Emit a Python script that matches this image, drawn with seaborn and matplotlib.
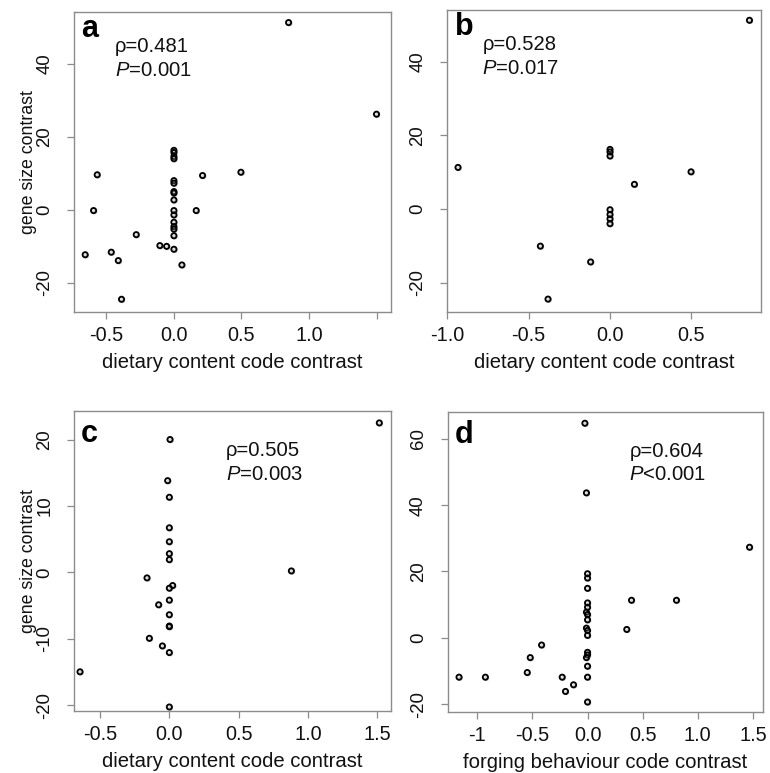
import numpy as np
import pandas as pd
import seaborn as sns
import matplotlib
matplotlib.use("Agg")
import matplotlib.pyplot as plt
import matplotlib.patheffects as pe

# ---------------- data ----------------
a_x = [0.849, 1.50, -0.568, -0.595, -0.657, -0.464, -0.412, -0.388, -0.279,
       -0.104, -0.054, 0.0, 0.059, 0.165, 0.212, 0.496,
       0.0, 0.0, 0.0, 0.0, 0.0, 0.0, 0.0, 0.0, 0.0,
       0.0, 0.0, 0.0, 0.0, 0.0, 0.0]
a_y = [51.3, 26.2, 9.6, -0.2, -12.3, -11.6, -13.9, -24.5, -6.8,
       -9.8, -10.0, -10.8, -15.1, -0.2, 9.4, 10.3,
       16.3, 15.7, 14.6, 14.0, 8.0, 7.3, 5.0, 4.6, 2.7,
       -0.2, -1.4, -3.4, -4.6, -5.3, -7.1]

b_x = [0.857, -0.934, 0.0, 0.0, 0.0, 0.150, 0.498, 0.0, 0.0, 0.0, 0.0,
       -0.428, -0.119, -0.381]
b_y = [51.3, 11.3, 16.2, 15.5, 14.4, 6.7, 10.1, -0.2, -1.5, -2.7, -4.0,
       -10.1, -14.4, -24.5]

c_x = [1.514, 0.005, -0.012, 0.0, 0.0, 0.0, 0.0, 0.0, 0.88, -0.161, 0.024,
       0.0, 0.0, -0.077, 0.0, 0.0, 0.0, -0.144, -0.05, 0.0, -0.644, 0.0]
c_y = [22.5, 20.0, 13.8, 11.3, 6.7, 4.6, 2.8, 1.9, 0.2, -0.85, -2.0,
       -2.4, -4.2, -4.9, -6.4, -8.1, -8.2, -9.95, -11.1, -12.1, -15.0, -20.3]

d_x = [-0.024, -0.01, 1.47, 0.0, 0.0, 0.0, 0.0, 0.0, -0.01, 0.0, 0.0, -0.01,
       0.0, 0.0, 0.399, 0.807, 0.356, -0.417, -0.52, -0.547, -1.166, -0.927,
       -0.23, -0.127, -0.2, 0.0, 0.0, -0.01, 0.0, 0.0, 0.0]
d_y = [64.7, 43.7, 27.3, 19.3, 18.0, 14.9, 10.5, 9.2, 7.7, 7.0, 5.4, 2.9,
       2.2, 0.7, 11.3, 11.3, 2.5, -2.2, -6.0, -10.5, -11.9, -11.9,
       -11.9, -14.2, -16.2, -4.4, -5.2, -6.0, -8.6, -11.9, -19.4]

panel_letters = ["a", "b", "c", "d"]
rho_texts = ["ρ=0.481", "ρ=0.528", "ρ=0.505", "ρ=0.604"]
p_texts = ["=0.001", "=0.017", "=0.003", "<0.001"]
x_labels = ["dietary content code contrast", "dietary content code contrast",
            "dietary content code contrast", "forging behaviour code contrast"]
y_label = "gene size contrast"

x_ticks = [[-0.5, 0.0, 0.5, 1.0, 1.5], [-1.0, -0.5, 0.0, 0.5],
           [-0.5, 0.0, 0.5, 1.0, 1.5], [-1, -0.5, 0.0, 0.5, 1.0, 1.5]]
x_ticklabels = [["-0.5", "0.0", "0.5", "1.0", ""], ["-1.0", "-0.5", "0.0", "0.5"],
                ["-0.5", "0.0", "0.5", "1.0", "1.5"], ["-1", "-0.5", "0.0", "0.5", "1.0", "1.5"]]
y_ticks = [[-20, 0, 20, 40], [-20, 0, 20, 40], [-20, -10, 0, 10, 20], [-20, 0, 20, 40, 60]]
x_lims = [(-0.74, 1.605), (-1.0, 0.926), (-0.6875, 1.596), (-1.269, 1.592)]
y_lims = [(-27.9, 54.2), (-28.0, 54.1), (-20.9, 24.3), (-22.4, 68.1)]

# ---------------- style ----------------
sns.set_theme(style="white")
plt.rcParams["font.family"] = ["Liberation Sans", "DejaVu Sans"]
plt.rcParams["mathtext.fontset"] = "custom"
plt.rcParams["mathtext.rm"] = "Liberation Sans"
plt.rcParams["mathtext.it"] = "Liberation Sans:italic"

W, H = 770, 773
fig = plt.figure(figsize=(W / 100, H / 100), dpi=100)
fig.patch.set_facecolor("white")

# axes boxes in pixels: left, top, right, bottom
boxes = [(74, 12, 390.7, 311.7), (447.3, 10, 760.7, 312),
         (74, 411, 390.7, 711), (447.7, 412, 763, 712)]
letter_pos = [(0.021, 0.9156), (0.0246, 0.918), (0.021, 0.8957), (0.021, 0.8957)]
rho_pos = [(0.1295, 0.8675, 0.7865), (0.1117, 0.8675, 0.7865),
           (0.48, 0.85, 0.77), (0.576, 0.851, 0.773)]

datasets = [(a_x, a_y), (b_x, b_y), (c_x, c_y), (d_x, d_y)]
frame_col = "#8c8c8c"
txt_col = "#111111"

for i, (xs, ys) in enumerate(datasets):
    l, t, r, b = boxes[i]
    ax = fig.add_axes([l / W, 1 - b / H, (r - l) / W, (b - t) / H])
    df = pd.DataFrame({"x": xs, "y": ys})
    sns.scatterplot(data=df, x="x", y="y", ax=ax, marker="o", s=14,
                    facecolor="none", edgecolor="black", linewidth=1.35,
                    path_effects=[pe.withSimplePatchShadow(offset=(0.9, -0.9),
                                                           shadow_rgbFace="0.55",
                                                           alpha=0.35)])
    ax.set_xlim(*x_lims[i])
    ax.set_ylim(*y_lims[i])
    ax.set_xticks(x_ticks[i])
    ax.set_xticklabels(x_ticklabels[i], fontsize=14.3)
    ax.set_yticks(y_ticks[i])
    ax.set_yticklabels([str(v) for v in y_ticks[i]], rotation=90, va="center",
                       fontsize=13.4)
    for sp in ax.spines.values():
        sp.set_visible(True)
        sp.set_color(frame_col)
        sp.set_linewidth(1.0)
    ax.tick_params(axis="both", which="both", direction="out", length=5,
                   width=0.9, color=frame_col, labelcolor=txt_col,
                   left=True, bottom=True)
    ax.tick_params(axis="x", pad=5)
    ax.tick_params(axis="y", pad=10)
    ax.set_xlabel(x_labels[i], fontsize=14.6, color=txt_col)
    ax.xaxis.set_label_coords(0.5, -0.137)
    if i in (0, 2):
        ax.set_ylabel(y_label, fontsize=12.8, color=txt_col)
        ax.yaxis.set_label_coords(-0.118, 0.5)
    else:
        ax.set_ylabel("")
    lx, ly = letter_pos[i]
    ax.text(lx, ly, panel_letters[i], transform=ax.transAxes, fontsize=22,
            fontweight="bold", ha="left", va="baseline", color="black")
    rx, ry1, ry2 = rho_pos[i]
    ax.text(rx, ry1, rho_texts[i], transform=ax.transAxes, fontsize=14.6,
            ha="left", va="baseline", color=txt_col)
    ax.text(rx, ry2, "$P$" + p_texts[i], transform=ax.transAxes, fontsize=14.6,
            ha="left", va="baseline", color=txt_col)
    ax.grid(False)

fig.savefig("out.png", dpi=100, facecolor="white")
